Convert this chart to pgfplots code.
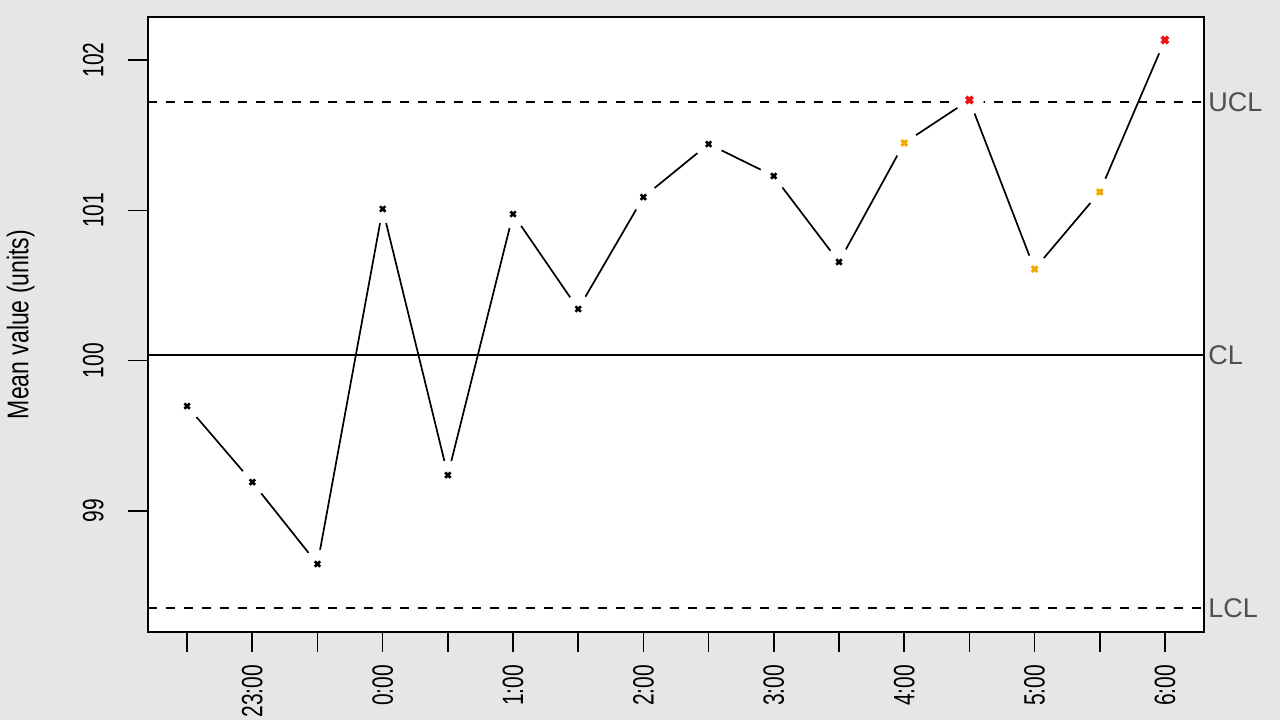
\documentclass[border=0pt]{standalone}
\usepackage{pgfplots}
\pgfplotsset{compat=1.18}
\usepackage{fontspec}
\setmainfont{Liberation Sans}
\definecolor{bggray}{HTML}{E6E6E6}
\definecolor{rorange}{HTML}{F5A800}
\definecolor{rred}{HTML}{F01010}
\definecolor{lblgray}{HTML}{505050}
\newcommand{\st}[1]{\scalebox{1}[1.4]{#1}}
\begin{document}
\begin{tikzpicture}[font=\fontsize{10.5}{12}\selectfont]
\path[use as bounding box, fill=bggray] (0,0) rectangle (640pt,360pt);
\begin{axis}[
  at={(74pt,44pt)}, anchor=south west,
  scale only axis, width=528pt, height=307.5pt,
  xmin=0.4, xmax=16.6, ymin=98.195, ymax=102.286,
  axis background/.style={fill=white},
  axis line style={line width=0.8pt},
  clip=false,
  tick align=outside, xtick pos=bottom, ytick pos=left,
  major tick length=10pt,
  tick style={line width=0.8pt, black},
  xtick={1,...,16},
  xticklabels={,\st{23:00},,\st{0:00},,\st{1:00},,\st{2:00},,\st{3:00},,\st{4:00},,\st{5:00},,\st{6:00}},
  xticklabel style={rotate=90, anchor=east},
  xticklabel shift=3pt,
  ytick={99,100,101,102},
  yticklabels={\st{99},\st{100},\st{101},\st{102}},
  yticklabel style={rotate=90, anchor=south, inner sep=0pt},
  yticklabel shift=12pt,
]
% connecting line
\addplot[black, line width=0.85pt] coordinates {
(1,99.698) (2,99.192) (3,98.647) (4,101.009) (5,99.239) (6,100.975)
(7,100.343) (8,101.088) (9,101.441) (10,101.228) (11,100.656)
(12,101.448) (13,101.734) (14,100.609) (15,101.122) (16,102.133)};
% gaps around points
\addplot[white, only marks, mark=*, mark size=7pt, mark options={fill=white, draw=white}] coordinates {
(1,99.698) (2,99.192) (3,98.647) (4,101.009) (5,99.239) (6,100.975)
(7,100.343) (8,101.088) (9,101.441) (10,101.228) (11,100.656)
(12,101.448) (13,101.734) (14,100.609) (15,101.122) (16,102.133)};
% control limits
\addplot[black, line width=0.7pt, dash pattern=on 4.5pt off 4.5pt] coordinates {(0.4,101.72) (16.6,101.72)};
\addplot[black, line width=0.7pt] coordinates {(0.4,100.037) (16.6,100.037)};
\addplot[black, line width=0.7pt, dash pattern=on 4.5pt off 4.5pt] coordinates {(0.4,98.354) (16.6,98.354)};
% points
\addplot[only marks, mark=x, mark size=1.9pt, mark options={line width=1.3pt, black}] coordinates {
(1,99.698) (2,99.192) (3,98.647) (4,101.009) (5,99.239) (6,100.975)
(7,100.343) (8,101.088) (9,101.441) (10,101.228) (11,100.656)};
\addplot[only marks, mark=x, mark size=2pt, mark options={line width=1.5pt, rorange}] coordinates {
(12,101.448) (14,100.609) (15,101.122)};
\addplot[only marks, mark=x, mark size=2.3pt, mark options={line width=1.8pt, rred}] coordinates {
(13,101.734) (16,102.133)};
\node[anchor=west, text=lblgray, inner sep=0pt, xshift=2pt, font=\fontsize{13.5}{15}\selectfont] at (axis cs:16.6,101.72) {UCL};
\node[anchor=west, text=lblgray, inner sep=0pt, xshift=2pt, font=\fontsize{13.5}{15}\selectfont] at (axis cs:16.6,100.037) {CL};
\node[anchor=west, text=lblgray, inner sep=0pt, xshift=2pt, font=\fontsize{13.5}{15}\selectfont] at (axis cs:16.6,98.354) {LCL};
\node[rotate=90, font=\fontsize{11.5}{13}\selectfont] at (axis description cs:-0.1207,0.5) {\scalebox{1}[1.3]{Mean value (units)}};
\end{axis}
\end{tikzpicture}
\end{document}
